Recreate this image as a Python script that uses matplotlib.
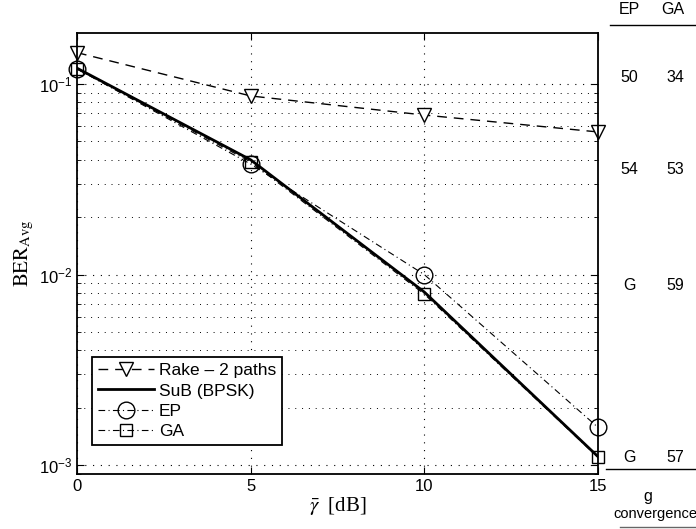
import matplotlib
matplotlib.use("Agg")
import matplotlib.pyplot as plt
from matplotlib.ticker import LogLocator, NullFormatter

snr_db = [0, 5, 10, 15]
rake = [0.146, 0.0865, 0.0687, 0.056]
sub = [0.121, 0.040, 0.0081, 0.00111]
ep = [0.120, 0.038, 0.0100, 0.00158]
ga = [0.120, 0.039, 0.0079, 0.00110]

tbl_header = ["EP", "GA"]
tbl_rows = [["50", "34"], ["54", "53"], ["G", "59"], ["G", "57"]]
tbl_footer = ["g", "convergence"]

plt.rcParams['font.family'] = ['Liberation Sans', 'DejaVu Sans']
plt.rcParams['mathtext.fontset'] = 'stix'

fig = plt.figure(figsize=(6.96, 5.29), dpi=100)
ax = fig.add_axes([0.1106, 0.104, 0.7486, 0.8336])

ax.semilogy(snr_db, rake, linestyle=(0, (7, 5)), color='k', lw=1.0, marker='v',
            mfc='white', mec='k', ms=10, mew=1.0, label='Rake – 2 paths', clip_on=False, zorder=3)
ax.semilogy(snr_db, sub, '-', color='k', lw=2.0, label='SuB (BPSK)', zorder=3)
ax.semilogy(snr_db, ep, linestyle=(0, (6, 3, 1, 3)), color='k', lw=0.8, marker='o',
            mfc='none', mec='k', ms=12, mew=1.0, label='EP', clip_on=False, zorder=3)
ax.semilogy(snr_db, ga, linestyle=(0, (6, 3, 1, 3)), color='k', lw=0.8, marker='s',
            mfc='none', mec='k', ms=8, mew=1.0, label='GA', clip_on=False, zorder=3)

ax.set_xlim(0, 15)
ax.set_ylim(9e-4, 0.185)
ax.set_xticks([0, 5, 10, 15])
ax.yaxis.set_major_locator(LogLocator(base=10, numticks=10))
ax.yaxis.set_minor_locator(LogLocator(base=10, subs=range(2, 10), numticks=20))
ax.yaxis.set_minor_formatter(NullFormatter())
ax.tick_params(which='both', direction='in', top=True, right=True, labelsize=12)
ax.tick_params(which='major', length=5)
ax.tick_params(which='minor', length=3)
ax.grid(True, which='major', linestyle=(0, (1, 6)), color='k', lw=0.8)
ax.grid(True, which='minor', axis='y', linestyle=(0, (1, 6)), color='k', lw=0.7)
for s in ax.spines.values():
    s.set_linewidth(1.3)
    s.set_zorder(4)

ax.set_xlabel(r'$\bar{\gamma}$  [dB]', fontsize=15, labelpad=1,
              family=['Liberation Serif', 'DejaVu Serif'])
ax.set_ylabel(r'$\mathrm{BER}_{\mathrm{Avg}}$', fontsize=15, labelpad=2)

leg = ax.legend(loc='lower left', bbox_to_anchor=(0.029, 0.065), fontsize=12.5,
                frameon=True, fancybox=False, edgecolor='k', framealpha=1,
                handlelength=3.2, borderpad=0.35, labelspacing=0.3, handletextpad=0.3,
                borderaxespad=0)
leg.get_frame().set_linewidth(1.3)

# right side table
W, H = 696, 529
def fx(px): return px / W
def fy(py): return 1 - py / H
fig.text(fx(629), fy(10), tbl_header[0], ha='center', va='center', fontsize=11.5)
fig.text(fx(673), fy(10), tbl_header[1], ha='center', va='center', fontsize=11.5)
fig.add_artist(plt.Line2D([fx(610), fx(696)], [fy(25), fy(25)], color='k', lw=1.0))
row_y = [77, 170, 285, 457]
for (a, b), yy in zip(tbl_rows, row_y):
    fig.text(fx(629), fy(yy), a, ha='center', va='center', fontsize=11.5)
    fig.text(fx(675), fy(yy), b, ha='center', va='center', fontsize=11.5)
fig.add_artist(plt.Line2D([fx(606), fx(696)], [fy(469), fy(469)], color='k', lw=1.0))
fig.text(fx(648), fy(497), tbl_footer[0], ha='center', va='center', fontsize=11.5)
fig.text(fx(655), fy(514), tbl_footer[1], ha='center', va='center', fontsize=10.5)
fig.add_artist(plt.Line2D([fx(620), fx(696)], [fy(527), fy(527)], color='0.4', lw=1.0))

fig.savefig('out.png', dpi=100)
